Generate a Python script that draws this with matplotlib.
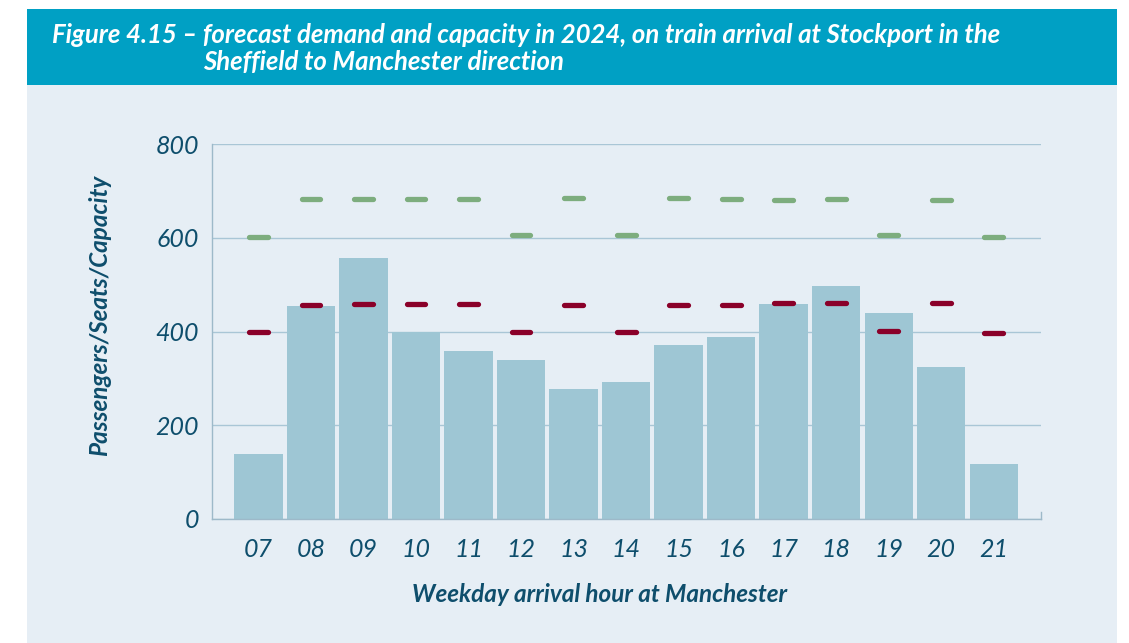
import matplotlib
matplotlib.use("Agg")
import matplotlib.pyplot as plt
from matplotlib.patches import Rectangle

hours = ["07", "08", "09", "10", "11", "12", "13", "14", "15", "16", "17", "18", "19", "20", "21"]
demand = [139, 455, 557, 400, 359, 339, 278, 292, 371, 389, 459, 497, 440, 324, 117]
seats = [399, 457, 459, 459, 459, 400, 457, 400, 457, 457, 461, 462, 402, 461, 398]
capacity = [603, 684, 683, 684, 684, 606, 686, 606, 686, 684, 682, 684, 606, 682, 603]
yticks = [0, 200, 400, 600, 800]

title = ("Figure 4.15 \u2013 forecast demand and capacity in 2024, on train arrival at Stockport in the")
title2 = "Sheffield to Manchester direction"
ylabel = "Passengers/Seats/Capacity"
xlabel = "Weekday arrival hour at Manchester"

fam = "Lato"

W, H = 1129, 643
fig = plt.figure(figsize=(W / 100, H / 100), dpi=100)
fig.patch.set_facecolor("white")

# panels
fig.patches.append(Rectangle((27 / W, 0), (1117 - 27) / W, (H - 85) / H,
                             transform=fig.transFigure, facecolor="#E6EEF5", edgecolor="none", zorder=-2))
fig.patches.append(Rectangle((27 / W, (H - 85) / H), (1117 - 27) / W, 76 / H,
                             transform=fig.transFigure, facecolor="#00A0C4", edgecolor="none", zorder=-2))

tc = "#0E4E6C"
fig.text(52 / W, (H - 35) / H, title, color="white", fontsize=18.5, fontweight="bold",
         fontstyle="italic", family=fam, va="center", ha="left")
fig.text(203 / W, (H - 62) / H, title2, color="white", fontsize=18.5, fontweight="bold",
         fontstyle="italic", family=fam, va="center", ha="left")

ax = fig.add_axes([211.7 / W, 124 / H, (1041 - 211.7) / W, (519 - 144.3) / H])
ax.set_zorder(2)
ax.set_facecolor("none")
x = list(range(len(hours)))
ax.bar(x, demand, width=0.92, color="#9EC6D4", zorder=2)
for i in x:
    ax.plot([i - 0.18, i + 0.18], [capacity[i], capacity[i]], color="#7DAD7E",
            lw=3.8, solid_capstyle="round", zorder=3)
    ax.plot([i - 0.18, i + 0.18], [seats[i], seats[i]], color="#8A0029",
            lw=3.8, solid_capstyle="round", zorder=3)

ax.set_xlim(-0.89, 14.9)
ax.set_ylim(0, 800)
ax.set_yticks(yticks)
ax.set_xticks(x)
ax.set_xticklabels(hours)
ax.grid(axis="y", color="#A9C6D6", lw=1, zorder=1)
ax.set_axisbelow(True)
for s in ["top", "right"]:
    ax.spines[s].set_visible(False)
for s in ["left", "bottom"]:
    ax.spines[s].set_color("#9DB9C9")
    ax.spines[s].set_linewidth(1)
ax.tick_params(axis="both", length=0, colors=tc, labelsize=18)
ax.tick_params(axis="x", pad=14)
ax.tick_params(axis="y", pad=9)
for lab in ax.get_xticklabels() + ax.get_yticklabels():
    lab.set_fontstyle("italic")
    lab.set_family(fam)
    lab.set_color(tc)
ax.plot([14.9, 14.9], [0, 16], color="#9DB9C9", lw=1, clip_on=False)

fig.text(100 / W, (H - 315) / H, ylabel, rotation=90, color=tc, fontsize=17.5, fontweight="bold",
         fontstyle="italic", family=fam, va="center", ha="center")
fig.text(600 / W, (H - 595) / H, xlabel, color=tc, fontsize=17.5, fontweight="bold",
         fontstyle="italic", family=fam, va="center", ha="center")

fig.savefig("out.png", dpi=100, facecolor="white")
